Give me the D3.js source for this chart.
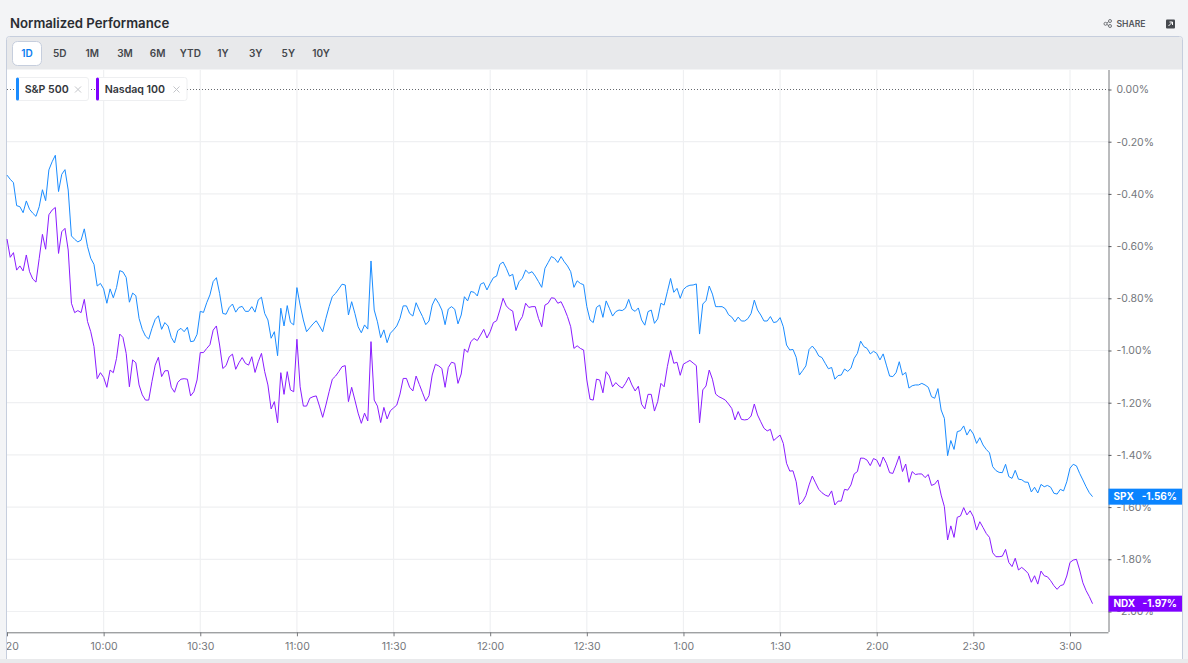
<!DOCTYPE html>
<html>
<head>
<meta charset="utf-8">
<script src="https://cdn.jsdelivr.net/npm/d3@7"></script>
<style>
  html, body { margin: 0; padding: 0; background: #f3f4f6; overflow: hidden; }
  svg { display: block; font-family: Inter, "Noto Sans", sans-serif; }
</style>
</head>
<body>
<svg id="chart" width="1188" height="663"></svg>
<script>
/// data ///
const ranges = ["1D", "5D", "1M", "3M", "6M", "YTD", "1Y", "3Y", "5Y", "10Y"];
const timeLabels = ["9:20", "10:00", "10:30", "11:00", "11:30", "12:00", "12:30", "1:00", "1:30", "2:00", "2:30", "3:00"];
const percentTicks = [0, -0.2, -0.4, -0.6, -0.8, -1, -1.2, -1.4, -1.6, -1.8, -2];

// one reading per minute, percent change since the open
const spxValues = [
  -.328,-.344,-.357,-.445,-.449,-.472,-.427,-.459,-.474,-.486,-.449,-.384,-.426,-.308,-.277,-.252,-.391,-.325,-.307,-.385,
  -.561,-.574,-.584,-.577,-.534,-.602,-.647,-.670,-.753,-.743,-.764,-.819,-.764,-.798,-.759,-.694,-.699,-.720,-.815,-.780,
  -.790,-.877,-.919,-.945,-.956,-.915,-.881,-.867,-.919,-.893,-.906,-.950,-.971,-.924,-.915,-.928,-.911,-.966,-.964,-.938,
  -.850,-.854,-.817,-.787,-.736,-.721,-.781,-.858,-.861,-.835,-.822,-.853,-.835,-.831,-.850,-.850,-.832,-.853,-.806,-.796,
  -.858,-.883,-.953,-.928,-1.020,-.838,-.906,-.828,-.892,-.902,-.759,-.826,-.883,-.928,-.913,-.898,-.886,-.906,-.928,-.877,
  -.832,-.793,-.781,-.764,-.746,-.749,-.864,-.813,-.858,-.909,-.932,-.902,-.918,-.657,-.845,-.890,-.951,-.921,-.970,-.934,
  -.921,-.906,-.877,-.829,-.829,-.858,-.868,-.817,-.845,-.870,-.901,-.887,-.826,-.800,-.819,-.845,-.901,-.841,-.832,-.842,
  -.898,-.864,-.794,-.810,-.774,-.777,-.791,-.746,-.740,-.768,-.743,-.721,-.715,-.670,-.661,-.685,-.715,-.708,-.768,-.736,
  -.723,-.692,-.704,-.698,-.715,-.736,-.758,-.685,-.663,-.640,-.647,-.663,-.640,-.660,-.676,-.698,-.758,-.733,-.743,-.748,
  -.832,-.883,-.893,-.835,-.826,-.873,-.810,-.838,-.868,-.851,-.845,-.847,-.838,-.804,-.842,-.850,-.837,-.883,-.903,-.851,
  -.845,-.896,-.879,-.819,-.826,-.775,-.724,-.777,-.762,-.800,-.766,-.755,-.750,-.749,-.745,-.937,-.822,-.809,-.753,-.784,
  -.832,-.832,-.832,-.840,-.863,-.872,-.890,-.872,-.887,-.887,-.878,-.858,-.807,-.845,-.864,-.887,-.887,-.870,-.893,-.890,
  -.874,-.909,-.979,-.998,-.996,-1.026,-1.094,-1.077,-1.059,-.996,-.983,-.998,-1.021,-1.027,-1.049,-1.070,-1.065,-1.110,-1.096,-1.094,
  -1.071,-1.080,-1.068,-1.030,-1.011,-.964,-.985,-.992,-1.013,-1.003,-1.011,-1.036,-1.013,-1.056,-1.098,-1.100,-1.085,-1.043,-1.094,-1.084,
  -1.144,-1.135,-1.132,-1.132,-1.126,-1.132,-1.141,-1.177,-1.183,-1.146,-1.228,-1.260,-1.403,-1.345,-1.379,-1.311,-1.307,-1.289,-1.324,-1.302,
  -1.320,-1.356,-1.334,-1.362,-1.379,-1.392,-1.445,-1.460,-1.467,-1.468,-1.436,-1.483,-1.490,-1.459,-1.493,-1.495,-1.504,-1.505,-1.542,-1.524,
  -1.546,-1.513,-1.522,-1.517,-1.524,-1.547,-1.550,-1.532,-1.538,-1.503,-1.451,-1.436,-1.442,-1.471,-1.496,-1.522,-1.545,-1.560
];
const ndxValues = [
  -.573,-.643,-.625,-.692,-.676,-.695,-.634,-.698,-.726,-.738,-.647,-.555,-.612,-.480,-.462,-.452,-.628,-.545,-.532,-.615,
  -.819,-.855,-.847,-.855,-.804,-.889,-.928,-.985,-1.108,-1.085,-1.103,-1.141,-1.075,-1.085,-1.030,-.937,-.950,-1.011,-1.139,-1.036,
  -1.047,-1.132,-1.170,-1.190,-1.190,-1.119,-1.056,-1.026,-1.100,-1.078,-1.077,-1.141,-1.160,-1.122,-1.110,-1.108,-1.110,-1.174,-1.158,-1.113,
  -1.008,-1.008,-.992,-.978,-.922,-.906,-.979,-1.069,-1.058,-1.024,-1.014,-1.072,-1.047,-1.027,-1.049,-1.056,-1.024,-1.084,-1.043,-1.011,
  -1.081,-1.132,-1.224,-1.196,-1.277,-1.085,-1.168,-1.081,-1.151,-1.158,-.957,-1.139,-1.213,-1.213,-1.183,-1.177,-1.174,-1.213,-1.256,-1.209,
  -1.158,-1.110,-1.098,-1.081,-1.062,-1.058,-1.196,-1.141,-1.190,-1.240,-1.279,-1.240,-1.270,-.966,-1.190,-1.213,-1.276,-1.218,-1.262,-1.231,
  -1.220,-1.209,-1.167,-1.107,-1.107,-1.141,-1.155,-1.098,-1.130,-1.162,-1.194,-1.173,-1.094,-1.053,-1.059,-1.069,-1.141,-1.065,-1.045,-1.049,
  -1.126,-1.090,-.994,-1.007,-.966,-.954,-.962,-.941,-.919,-.952,-.928,-.893,-.886,-.845,-.800,-.829,-.842,-.849,-.924,-.890,
  -.870,-.819,-.835,-.832,-.832,-.877,-.909,-.826,-.819,-.798,-.800,-.819,-.813,-.839,-.870,-.909,-.992,-.982,-.992,-.998,
  -1.113,-1.187,-1.190,-1.110,-1.113,-1.162,-1.081,-1.098,-1.139,-1.123,-1.136,-1.144,-1.126,-1.102,-1.132,-1.155,-1.137,-1.206,-1.224,-1.168,
  -1.168,-1.232,-1.196,-1.126,-1.139,-1.062,-1.000,-1.049,-1.045,-1.095,-1.052,-1.045,-1.038,-1.048,-1.058,-1.277,-1.151,-1.136,-1.075,-1.110,
  -1.167,-1.177,-1.183,-1.190,-1.205,-1.222,-1.266,-1.234,-1.264,-1.266,-1.264,-1.251,-1.205,-1.247,-1.273,-1.298,-1.308,-1.302,-1.345,-1.334,
  -1.324,-1.356,-1.432,-1.462,-1.461,-1.503,-1.590,-1.579,-1.556,-1.515,-1.481,-1.507,-1.532,-1.545,-1.554,-1.559,-1.538,-1.592,-1.577,-1.577,
  -1.532,-1.535,-1.515,-1.473,-1.464,-1.412,-1.413,-1.420,-1.441,-1.414,-1.420,-1.445,-1.408,-1.432,-1.468,-1.471,-1.439,-1.404,-1.464,-1.435,
  -1.505,-1.464,-1.475,-1.473,-1.473,-1.487,-1.475,-1.517,-1.512,-1.496,-1.554,-1.598,-1.726,-1.672,-1.716,-1.639,-1.634,-1.602,-1.630,-1.614,
  -1.637,-1.688,-1.656,-1.678,-1.701,-1.716,-1.775,-1.790,-1.790,-1.788,-1.762,-1.812,-1.828,-1.796,-1.841,-1.831,-1.841,-1.854,-1.888,-1.863,
  -1.895,-1.845,-1.863,-1.867,-1.882,-1.901,-1.915,-1.901,-1.897,-1.864,-1.812,-1.803,-1.800,-1.841,-1.890,-1.920,-1.943,-1.970
];
const seriesNames = ["S&P 500", "Nasdaq 100"];
const seriesTickers = ["SPX", "NDX"];

/// constants ///
const spxColour = "#1a8cff";
const ndxColour = "#8a1cff";
const spxBadge = "#0a84ff";
const ndxBadge = "#7f00ff";
const gridColour = "#eff0f2";
const axisColour = "#77797d";
const labelColour = "#74777c";
const plot = {left: 7, right: 1108.5, top: 70, bottom: 632};

const svg = d3.select("#chart");

////////// Panel //////////
svg.append("text")
  .attr("x", 10).attr("y", 28)
  .attr("font-size", 13.2).attr("font-weight", 600).attr("fill", "#2a2d32")
  .text("Normalized Performance");

svg.append("rect")
  .attr("x", 6.5).attr("y", 36.5).attr("width", 1176).attr("height", 640).attr("rx", 3)
  .attr("fill", "#fff").attr("stroke", "#c6cedd");
svg.append("path")
  .attr("d", "M7,69.5V40a3,3 0 0 1 3,-3H1179a3,3 0 0 1 3,3V69.5Z")
  .attr("fill", "#e8e9eb");
svg.append("rect")
  .attr("x", 0).attr("y", 659).attr("width", 1188).attr("height", 4)
  .attr("fill", "#e9eaec");

////////// Range buttons //////////
const buttonScale = d3.scalePoint().domain(ranges).range([27, 321]);
svg.append("rect")
  .attr("x", 12.5).attr("y", 41.5).attr("width", 29).attr("height", 24).attr("rx", 5)
  .attr("fill", "#fff").attr("stroke", "#c6cedd");
svg.selectAll(".range").data(ranges).join("text").classed("range", true)
  .attr("x", d => buttonScale(d)).attr("y", 57.3)
  .attr("text-anchor", "middle").attr("font-size", 10).attr("font-weight", 600)
  .attr("fill", d => d === "1D" ? "#0a7cf0" : "#44474c")
  .text(d => d);

////////// Share + expand //////////
const share = svg.append("g").attr("fill", "none").attr("stroke", "#55585d").attr("stroke-width", 0.8);
share.append("circle").attr("cx", 1105.5).attr("cy", 23.8).attr("r", 1.5);
share.append("circle").attr("cx", 1110).attr("cy", 21).attr("r", 1.5);
share.append("circle").attr("cx", 1110).attr("cy", 26).attr("r", 1.5);
share.append("path").attr("d", "M1107,23L1108.6,21.8M1107,24.6L1108.6,25.4");
svg.append("text")
  .attr("x", 1116.5).attr("y", 27.3)
  .attr("font-size", 8.6).attr("font-weight", 600).attr("fill", "#55585d")
  .text("SHARE");
svg.append("rect")
  .attr("x", 1166).attr("y", 19.5).attr("width", 9).attr("height", 9).attr("rx", 1)
  .attr("fill", "#46494e");
svg.append("path")
  .attr("d", "M1168.5,26L1172.5,22M1169.5,22H1172.5V25")
  .attr("fill", "none").attr("stroke", "#fff").attr("stroke-width", 1);

////////// Scales //////////
const xScale = d3.scaleLinear()
  .domain([0, 30 * (timeLabels.length - 1)])
  .range([plot.left, 1070]);
const yScale = d3.scaleLinear()
  .domain([0, -2])
  .range([89.5, 611.5]);
const xTicks = timeLabels.map((d, i) => i * 30);

////////// Grid //////////
svg.append("g").selectAll("line").data(xTicks.slice(1)).join("line")
  .attr("x1", d => xScale(d)).attr("x2", d => xScale(d))
  .attr("y1", plot.top).attr("y2", plot.bottom)
  .attr("stroke", gridColour).attr("stroke-width", 1.2);
svg.append("g").selectAll("line").data(percentTicks.slice(1)).join("line")
  .attr("x1", plot.left).attr("x2", plot.right)
  .attr("y1", d => yScale(d)).attr("y2", d => yScale(d))
  .attr("stroke", gridColour).attr("stroke-width", 1.2);
svg.append("line")
  .attr("x1", plot.left).attr("x2", plot.right)
  .attr("y1", yScale(0)).attr("y2", yScale(0))
  .attr("stroke", "#66696e").attr("stroke-dasharray", "1 2");

////////// Axes //////////
// the first time label sits on the panel edge and is cut by it
svg.append("defs").append("clipPath").attr("id", "axis-clip")
  .append("rect").attr("x", plot.left).attr("y", -2).attr("width", 1180).attr("height", 30);

const xAxis = svg.append("g")
  .attr("transform", `translate(0,${plot.bottom + 0.3})`)
  .attr("clip-path", "url(#axis-clip)");
xAxis.call(d3.axisBottom(xScale)
    .tickValues(xTicks)
    .tickFormat((d, i) => timeLabels[i])
    .tickSizeOuter(0).tickSize(4).tickPadding(6));
xAxis.select(".domain").attr("stroke", axisColour).attr("d", `M${plot.left},0.5H${plot.right}`);
xAxis.selectAll(".tick line").attr("stroke", axisColour);
xAxis.selectAll(".tick text")
  .attr("font-family", "Inter, 'Noto Sans', sans-serif").attr("font-size", 10.5).attr("fill", labelColour);

const yAxis = svg.append("g").attr("transform", `translate(${plot.right},0)`);
yAxis.call(d3.axisRight(yScale)
    .tickValues(percentTicks)
    .tickFormat(d => `${d.toFixed(2)}%`)
    .tickSizeOuter(0).tickSize(3).tickPadding(5));
yAxis.select(".domain").attr("stroke", axisColour).attr("d", `M0.5,${plot.top}V${plot.bottom}`);
yAxis.selectAll(".tick line").attr("stroke", "#55585d");
yAxis.selectAll(".tick text")
  .attr("font-family", "Inter, 'Noto Sans', sans-serif").attr("font-size", 10.5).attr("fill", labelColour);

////////// Lines //////////
const line = d3.line().x((d, i) => xScale(i)).y(d => yScale(d));
svg.append("path").datum(spxValues)
  .attr("d", line).attr("fill", "none").attr("stroke", spxColour).attr("stroke-width", 1);
svg.append("path").datum(ndxValues)
  .attr("d", line).attr("fill", "none").attr("stroke", ndxColour).attr("stroke-width", 1);

////////// End badges //////////
const lastValues = [spxValues[spxValues.length - 1], ndxValues[ndxValues.length - 1]];
const badgeColours = [spxBadge, ndxBadge];
const badges = svg.selectAll(".badge").data(seriesTickers).join("g").classed("badge", true)
  .attr("transform", (d, i) => `translate(${plot.right},${yScale(lastValues[i])})`);
badges.append("rect")
  .attr("x", 0).attr("y", -8).attr("width", 73.5).attr("height", 16)
  .attr("fill", (d, i) => badgeColours[i]);
badges.append("text")
  .attr("x", 5).attr("y", 3.7)
  .attr("font-size", 10).attr("font-weight", 700).attr("fill", "#fff")
  .text(d => d);
badges.append("text")
  .attr("x", 68.5).attr("y", 3.7).attr("text-anchor", "end")
  .attr("font-size", 10).attr("font-weight", 700).attr("fill", "#fff")
  .text((d, i) => `${lastValues[i].toFixed(2)}%`);

////////// Legend chips //////////
const chipX = [16, 96];
const chipWidth = [72, 90.5];
const chipColours = [spxColour, ndxBadge];
const chips = svg.selectAll(".chip").data(seriesNames).join("g").classed("chip", true)
  .attr("transform", (d, i) => `translate(${chipX[i]},77.5)`);
chips.append("rect")
  .attr("x", 0.5).attr("y", 0).attr("width", (d, i) => chipWidth[i]).attr("height", 23).attr("rx", 2.5)
  .attr("fill", "#fff").attr("stroke", "#eeeff1");
chips.append("rect")
  .attr("x", 0).attr("y", 0).attr("width", 3).attr("height", 23).attr("rx", 1.5)
  .attr("fill", (d, i) => chipColours[i]);
chips.append("text")
  .attr("x", 8.7).attr("y", 15.7)
  .attr("font-size", 10.6).attr("font-weight", 600).attr("fill", "#33363b")
  .text(d => d);
chips.append("path")
  .attr("d", (d, i) => {
    const c = chipWidth[i] - 10;
    return `M${c - 3},9L${c + 3},15M${c + 3},9L${c - 3},15`;
  })
  .attr("stroke", "#c4c6ca").attr("stroke-width", 1).attr("fill", "none");
</script>
</body>
</html>
